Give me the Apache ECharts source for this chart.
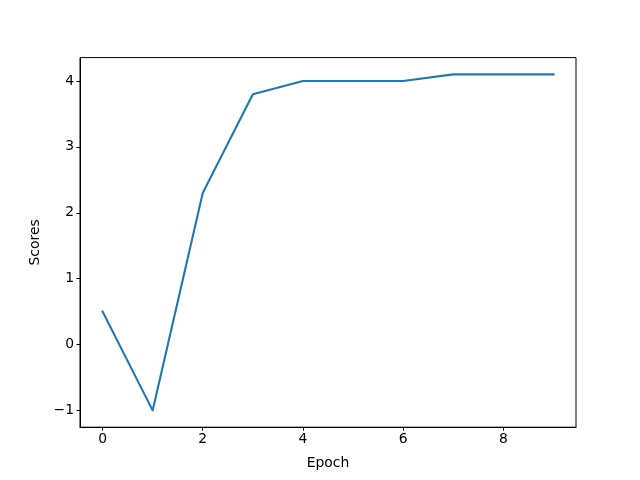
<!DOCTYPE html>
<html><head><meta charset="utf-8">
<script src="https://cdn.jsdelivr.net/npm/echarts@6/dist/echarts.min.js"></script>
<style>html,body{margin:0;padding:0;background:#fff}#c{width:640px;height:480px}</style>
</head><body><div id="c"></div>
<script>
const epochs = [0,1,2,3,4,5,6,7,8,9];
const scores = [0.5,-1.0,2.3,3.8,4.0,4.0,4.0,4.1,4.1,4.1];
const xTicks = [0,2,4,6,8];
const yTicks = [-1,0,1,2,3,4];
const xLabel = 'Epoch';
const yLabel = 'Scores';

const xmin = Math.min(...epochs), xmax = Math.max(...epochs);
const ymin = Math.min(...scores), ymax = Math.max(...scores);
const xm = (xmax - xmin) * 0.05, ym = (ymax - ymin) * 0.05;
const font = 'DejaVu Sans';
const fmt = v => String(v).replace('-', '\u2212');

const chart = echarts.init(document.getElementById('c'), null, {renderer:'canvas'});
chart.setOption({
  animation:false,
  grid:{left:80, right:64, top:57.6, bottom:52.8, show:true, borderColor:'#000', borderWidth:1, backgroundColor:'transparent'},
  xAxis:{type:'value', min:xmin-xm, max:xmax+xm,
    name:xLabel, nameLocation:'middle', nameGap:29,
    nameTextStyle:{fontFamily:font, fontSize:13.9, color:'#000'},
    axisLine:{show:true, onZero:false, lineStyle:{color:'#000', width:1}},
    axisTick:{show:true, inside:false, length:3.5, lineStyle:{color:'#000', width:1}, customValues:xTicks},
    axisLabel:{fontFamily:font, fontSize:13.9, color:'#000', margin:5, customValues:xTicks, formatter:fmt},
    splitLine:{show:false}},
  yAxis:{type:'value', min:ymin-ym, max:ymax+ym,
    name:yLabel, nameLocation:'middle', nameGap:36,
    nameTextStyle:{fontFamily:font, fontSize:13.9, color:'#000'},
    axisLine:{show:true, onZero:false, lineStyle:{color:'#000', width:1}},
    axisTick:{show:true, inside:false, length:3.5, lineStyle:{color:'#000', width:1}, customValues:yTicks},
    axisLabel:{fontFamily:font, fontSize:13.9, color:'#000', margin:6, customValues:yTicks, formatter:fmt},
    splitLine:{show:false}},
  series:[{type:'line', data:epochs.map((e,i)=>[e,scores[i]]), showSymbol:false, symbol:'none',
    lineStyle:{color:'#1f77b4', width:2.08, cap:'square', join:'round'}}]
});
</script></body></html>
